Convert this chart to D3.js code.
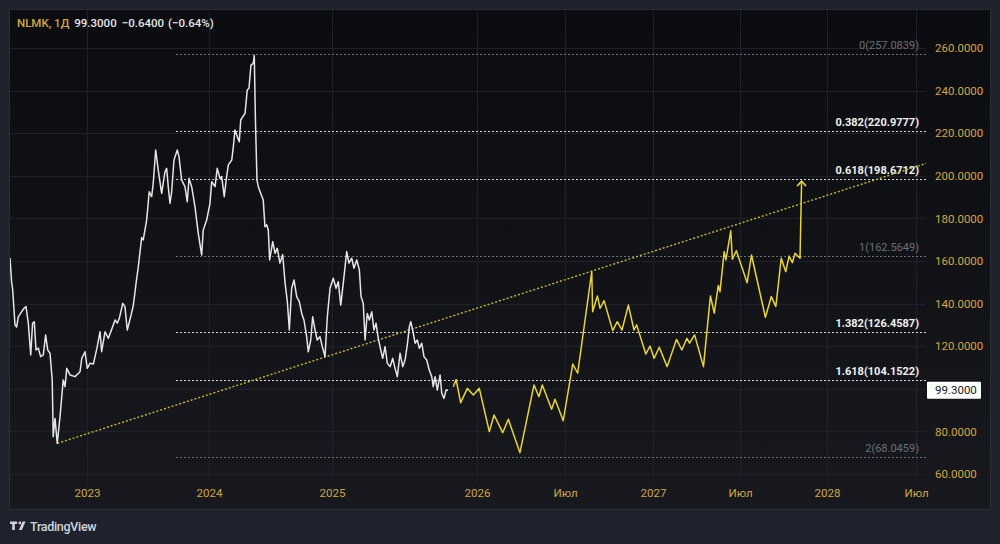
<!DOCTYPE html>
<html>
<head>
<meta charset="utf-8">
<script src="https://cdn.jsdelivr.net/npm/d3@7"></script>
<style>
html, body { margin: 0; padding: 0; background: #1e222d; }
svg { display: block; font-family: Roboto, "Noto Sans", sans-serif; }
</style>
</head>
<body>
<svg id="chart" width="1000" height="544"></svg>
<script>
// NLMK daily close (decimal year / price)
var histT = [2022.369,2022.382,2022.391,2022.410,2022.423,2022.437,2022.465,2022.484,2022.500,2022.519,
    2022.539,2022.554,2022.568,2022.582,2022.601,2022.620,2022.642,2022.661,2022.678,2022.697,
    2022.715,2022.723,2022.738,2022.756,2022.779,2022.805,2022.820,2022.834,2022.861,2022.902,
    2022.943,2022.957,2022.984,2023.002,2023.025,2023.052,2023.084,2023.107,2023.120,2023.148,
    2023.175,2023.202,2023.230,2023.248,2023.265,2023.293,2023.311,2023.330,2023.358,2023.380,
    2023.402,2023.420,2023.448,2023.461,2023.489,2023.510,2023.530,2023.543,2023.563,2023.584,
    2023.612,2023.639,2023.653,2023.666,2023.680,2023.694,2023.713,2023.740,2023.754,2023.776,
    2023.803,2023.822,2023.836,2023.858,2023.885,2023.912,2023.940,2023.953,2023.981,2024.008,
    2024.022,2024.049,2024.067,2024.089,2024.103,2024.124,2024.138,2024.157,2024.185,2024.198,
    2024.211,2024.230,2024.246,2024.258,2024.274,2024.293,2024.311,2024.325,2024.341,2024.360,
    2024.368,2024.378,2024.390,2024.401,2024.420,2024.441,2024.455,2024.469,2024.482,2024.493,
    2024.518,2024.537,2024.555,2024.577,2024.599,2024.618,2024.637,2024.653,2024.672,2024.691,
    2024.713,2024.734,2024.754,2024.772,2024.794,2024.807,2024.827,2024.843,2024.862,2024.880,
    2024.902,2024.921,2024.943,2024.962,2024.984,2025.009,2025.029,2025.045,2025.063,2025.081,
    2025.106,2025.122,2025.142,2025.158,2025.178,2025.197,2025.209,2025.225,2025.238,2025.254,
    2025.269,2025.286,2025.302,2025.317,2025.333,2025.351,2025.365,2025.382,2025.398,2025.418,
    2025.437,2025.454,2025.470,2025.490,2025.509,2025.526,2025.542,2025.557,2025.567,2025.581,
    2025.598,2025.614,2025.629,2025.646,2025.662,2025.682,2025.700,2025.718,2025.729,2025.742,
    2025.758,2025.778,2025.790,2025.806,2025.821,2025.835];
var histV = [161.4,150.3,146.4,130,129,133.8,136.2,137.8,138.6,130.8,
    115.9,130.8,131.5,118.2,119.1,115.1,115.9,125.3,118.2,116.7,
    104.1,77.5,86.1,74.4,87,104.1,101,109.6,106.5,105.7,
    108,114.3,117.4,109.6,112,111.6,119.8,126.8,117.4,126.8,
    123.7,127.9,132.3,130.8,133.1,140.1,138.6,127.6,133.8,139.3,
    149.5,157,171,169.9,179.2,192.5,190.2,196.5,212.1,202.7,
    191.8,201.9,203.5,194.9,187.1,192.5,207.4,212.1,209,198,
    194.9,187.8,198.8,194.9,185.5,173,162.8,174.6,179.2,187.1,
    197.2,194.9,203.5,198.8,199.6,190.2,197.2,205.1,207.4,213.7,
    221.5,218.4,216,226.2,227.7,229.3,240.3,241.1,252,252.8,
    256.5,225,198,194.9,191.8,188.6,176.1,177,174.6,160.5,
    169.1,163.6,166,159,163,150,140.9,127.6,147.2,151.1,
    143.3,140.9,135.4,132.3,124.5,117.4,122.9,133.8,127.6,122.9,
    124.5,119.8,115.1,133.8,147.2,151.9,147.2,150.3,139.3,149.5,
    164.4,159,161.3,156.6,160.5,155.8,143.3,140.1,122.9,135.4,
    132.3,136.2,127.6,130.8,123.7,118.2,114.3,119.8,112,110.4,
    114.3,109.6,105.7,116.7,110.4,113.5,120.6,129.1,131.5,127.6,
    121.4,122.9,119,121.4,115.1,113.5,108.8,105.7,101,105.7,
    99.4,106.5,97.9,95.5,99.4,99.3];

// drawn forecast path (yellow)
var projT = [2025.865,2025.881,2025.907,2025.945,2025.979,2026.013,2026.070,2026.097,2026.146,2026.178,
    2026.244,2026.324,2026.352,2026.371,2026.424,2026.443,2026.490,2026.544,2026.572,2026.652,
    2026.657,2026.684,2026.699,2026.722,2026.771,2026.797,2026.824,2026.860,2026.892,2026.907,
    2026.959,2026.983,2027.006,2027.036,2027.081,2027.135,2027.166,2027.195,2027.210,2027.239,
    2027.290,2027.330,2027.352,2027.375,2027.385,2027.409,2027.419,2027.447,2027.456,2027.479,
    2027.541,2027.566,2027.646,2027.680,2027.706,2027.737,2027.763,2027.782,2027.801,2027.816,
    2027.845,2027.854];
var projV = [101,104.4,93.5,100.2,97.1,100.2,79.9,87.7,79.4,85.7,
    70,101.8,96.3,101.8,90.4,95.1,85,111.6,107.3,155,
    136.2,143.6,137.8,141.4,127.3,131.5,127.6,139.3,127.6,130,
    116.3,120.1,114.3,119.5,110.4,123.2,118.2,123.7,121.4,125.3,
    110.4,143.6,135.5,148.5,145.6,164.4,160.5,174.2,160.8,164.8,
    149.8,162.8,133.6,143.3,138.6,161.3,155,162.3,159.2,163.6,
    161.3,197.5];

// trend line
var trendT = [2022.757, 2028.555];
var trendV = [74.4, 205.8];

// fibonacci levels
var fibRatio = ["0", "0.382", "0.618", "1", "1.382", "1.618", "2"];
var fibValue = [257.0839, 220.9777, 198.6712, 162.5649, 126.4587, 104.1522, 68.0459];
var fibMain = [false, true, true, false, true, true, false];
var fibStart = 2023.73;

var yTicks = [60, 80, 100, 120, 140, 160, 180, 200, 220, 240, 260];
var xTickT = [2023, 2024, 2025, 2026, 2026.5, 2027, 2027.5, 2028, 2028.5];
var xTickLabel = ["2023", "2024", "2025", "2026", "Июл", "2027", "Июл", "2028", "Июл"];

var symbol = "NLMK, 1Д";
var lastPrice = 99.3, change = -0.64, changePct = -0.64;

// layout
var pane = {left: 10, top: 10, right: 926, bottom: 483};
var frame = {left: 10, top: 10, right: 990, bottom: 509};
var gold = "#d2a73c";

var svg = d3.select("#chart");

var defs = svg.append("defs");
var grad = defs.append("linearGradient").attr("id", "bg").attr("x1", 0).attr("y1", 0).attr("x2", 0).attr("y2", 1);
grad.append("stop").attr("offset", "0%").attr("stop-color", "#0b0c0f");
grad.append("stop").attr("offset", "100%").attr("stop-color", "#17191e");
defs.append("clipPath").attr("id", "clip").append("rect")
    .attr("x", pane.left).attr("y", pane.top)
    .attr("width", pane.right - pane.left).attr("height", pane.bottom - pane.top);

svg.append("rect")
    .attr("x", frame.left - 0.5).attr("y", frame.top - 0.5)
    .attr("width", frame.right - frame.left + 1).attr("height", frame.bottom - frame.top + 1)
    .attr("fill", "url(#bg)").attr("stroke", "#2b2f3a");

// scales: history is compressed (trading bars), future uses calendar time
var lastT = histT[histT.length - 1];
var x = d3.scaleLinear()
    .domain([histT[0], 2023, 2024, 2025, lastT, 2026, 2026.5, 2027, 2027.5, 2028, 2028.5, 2028.555])
    .range([pane.left, 87, 209, 332, 448, 477, 565, 653, 740, 827, 916, pane.right]);
var y = d3.scaleLinear().domain([60, 260]).range([474, 48]);

// grid
var grid = svg.append("g").attr("stroke", "#1f222a").attr("stroke-width", 1);
grid.selectAll(".h").data(yTicks).enter().append("line")
    .attr("x1", pane.left).attr("x2", pane.right)
    .attr("y1", function(d) { return Math.round(y(d)) + 0.5; })
    .attr("y2", function(d) { return Math.round(y(d)) + 0.5; });
grid.selectAll(".v").data(xTickT).enter().append("line")
    .attr("y1", pane.top).attr("y2", pane.bottom)
    .attr("x1", function(d) { return Math.round(x(d)) + 0.5; })
    .attr("x2", function(d) { return Math.round(x(d)) + 0.5; });

var plot = svg.append("g").attr("clip-path", "url(#clip)");

// fib levels
var fib = plot.append("g");
fibValue.forEach(function(v, i) {
    var yy = Math.round(y(v)) + 0.5;
    fib.append("line")
        .attr("x1", x(fibStart)).attr("x2", pane.right)
        .attr("y1", yy).attr("y2", yy)
        .attr("stroke", fibMain[i] ? "#d8d8d8" : "#70737c")
        .attr("stroke-width", 1)
        .attr("stroke-dasharray", "2,2");
    fib.append("text")
        .attr("x", 919).attr("y", yy - 6)
        .attr("text-anchor", "end")
        .attr("font-size", 11)
        .attr("font-weight", fibMain[i] ? 700 : 400)
        .attr("fill", fibMain[i] ? "#f0f0f0" : "#6c6f78")
        .text(fibRatio[i] + "(" + d3.format(".4f")(v) + ")");
});

// trend line
var trend = trendT.map(function(t, i) { return [t, trendV[i]]; });
plot.append("path")
    .datum(trend)
    .attr("d", d3.line().x(function(d) { return x(d[0]); }).y(function(d) { return y(d[1]); }))
    .attr("fill", "none")
    .attr("stroke", "#cdb92a")
    .attr("stroke-width", 1.4)
    .attr("stroke-dasharray", "2,2");

// price history
var hist = histT.map(function(t, i) { return [t, histV[i]]; });
var line = d3.line().x(function(d) { return x(d[0]); }).y(function(d) { return y(d[1]); });
plot.append("path")
    .datum(hist)
    .attr("d", line)
    .attr("fill", "none")
    .attr("stroke", "#e6e6e6")
    .attr("stroke-width", 1.5)
    .attr("stroke-linejoin", "round");

// forecast
var proj = projT.map(function(t, i) { return [t, projV[i]]; });
plot.append("path")
    .datum(proj)
    .attr("d", line)
    .attr("fill", "none")
    .attr("stroke", "#e8d531")
    .attr("stroke-width", 1.5)
    .attr("stroke-linejoin", "round");
var tip = proj[proj.length - 1];
var tx = x(tip[0]), ty = y(tip[1]);
plot.append("path")
    .attr("d", "M" + (tx - 4.5) + "," + (ty + 5) + "L" + tx + "," + ty + "L" + (tx + 4.5) + "," + (ty + 5))
    .attr("fill", "none").attr("stroke", "#e8d531").attr("stroke-width", 1.5);

// y axis labels
var yAxis = d3.axisRight(y)
    .tickValues(yTicks.filter(function(d) { return Math.abs(y(d) - y(lastPrice)) > 12; }))
    .tickSize(0).tickPadding(0)
    .tickFormat(d3.format(".4f"));
var ya = svg.append("g").attr("transform", "translate(935,0)").call(yAxis);
ya.select(".domain").remove();
ya.selectAll("text").attr("fill", gold).attr("font-size", 11.5).attr("font-family", "Roboto, sans-serif");

// last price label
var py = y(lastPrice);
svg.append("rect").attr("x", 927).attr("y", py - 8.5).attr("width", 54).attr("height", 17)
    .attr("fill", "#ffffff").attr("rx", 1);
svg.append("text").attr("x", 935).attr("y", py + 4).attr("font-size", 11.5)
    .attr("fill", "#131722").text(d3.format(".4f")(lastPrice));

// x axis labels
var xAxis = d3.axisBottom(x)
    .tickValues(xTickT)
    .tickSize(0).tickPadding(0)
    .tickFormat(function(d, i) { return xTickLabel[i]; });
var xa = svg.append("g").attr("transform", "translate(0,489)").call(xAxis);
xa.select(".domain").remove();
xa.selectAll("text").attr("fill", gold).attr("font-size", 11.5).attr("font-family", "Roboto, sans-serif");

// header legend
var fmt = d3.format(".4f");
var head = svg.append("text").attr("x", 17).attr("y", 27).attr("font-size", 11.5).attr("font-weight", 500);
head.append("tspan").attr("fill", gold).text(symbol);
head.append("tspan").attr("fill", "#e6e6e6").attr("dx", 5).text(fmt(lastPrice));
head.append("tspan").attr("fill", "#e6e6e6").attr("dx", 5)
    .text(fmt(change).replace("-", "\u2013"));
head.append("tspan").attr("fill", "#e6e6e6").attr("dx", 4)
    .text("(" + d3.format(".2f")(changePct).replace("-", "\u2013") + "%)");

// TradingView mark
var logo = svg.append("g").attr("fill", "#d1d4dc");
logo.append("path").attr("d", "M10,521.5h7v2.5h-2.2v6h-2.6v-6h-2.2z");
logo.append("circle").attr("cx", 19.8).attr("cy", 523).attr("r", 1.4);
logo.append("path").attr("d", "M22.5,521.5h3l-3.6,8.5h-3z");
svg.append("text").attr("x", 30).attr("y", 531).attr("font-size", 12.5).attr("font-weight", 500)
    .attr("fill", "#d1d4dc").attr("letter-spacing", -0.3).text("TradingView");
</script>
</body>
</html>
